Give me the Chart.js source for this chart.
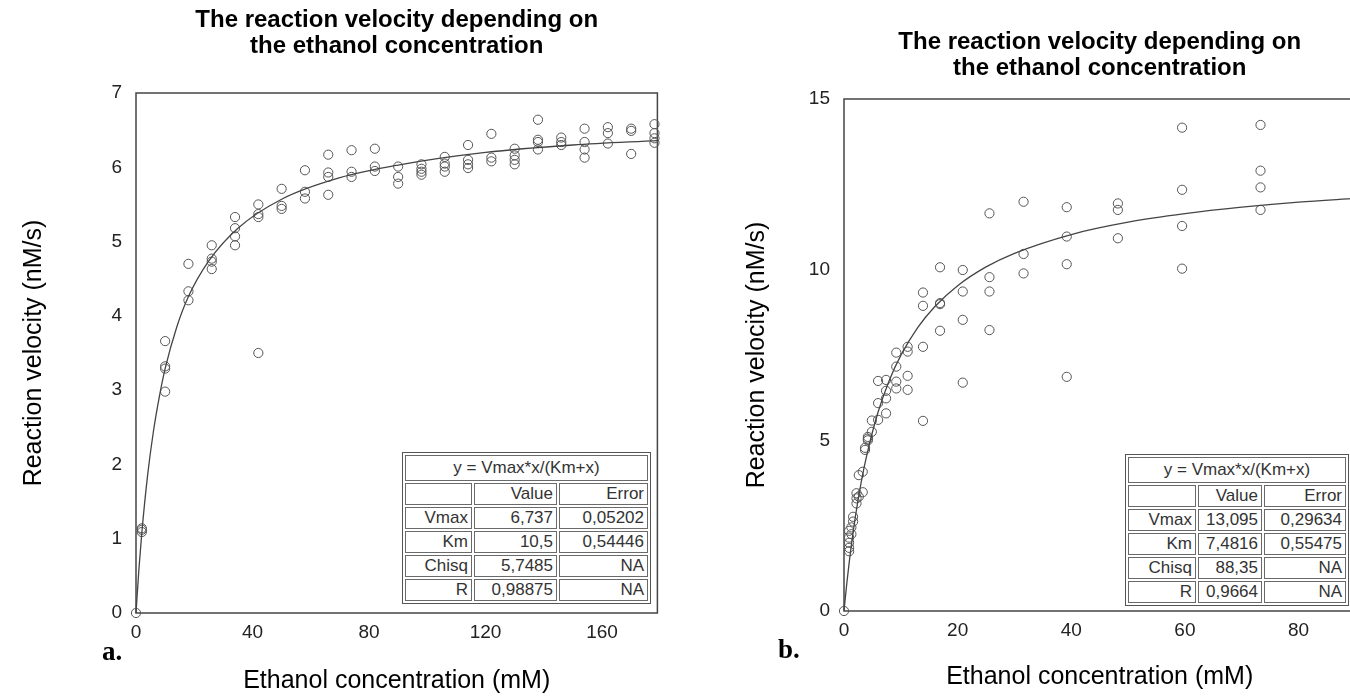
<!DOCTYPE html>
<html>
<head>
<meta charset="utf-8">
<script src="https://cdn.jsdelivr.net/npm/chart.js@4.4.1/dist/chart.umd.min.js"></script>
<style>
    html, body { margin: 0; padding: 0; background: #fff; width: 1350px; height: 700px; overflow: hidden; }
    .panel { position: absolute; top: 0; height: 700px; }
    #boxA { left: 0; width: 663px; }
    #boxB { left: 675px; width: 686px; }
    .tag { position: absolute; font: bold 27px "Liberation Serif", "Times New Roman", serif; color: #000; }
    table.fit {
        position: absolute; table-layout: fixed; border-collapse: separate; border-spacing: 2px;
        border: 1px solid #555; background: #fff; color: #333;
        font: 17px "Liberation Sans", Arial, sans-serif;
    }
    table.fit td { border: 1px solid #6a6a6a; padding: 0 3px; text-align: right; white-space: nowrap; overflow: hidden; line-height: 18px; height: 20px; }
    table.fit tr:first-child td { height: 24px; }
    table.fit td.eq { text-align: center; }
</style>
</head>
<body>
<div class="panel" id="boxA"><canvas id="chartA"></canvas></div>
<div class="panel" id="boxB"><canvas id="chartB"></canvas></div>
<div class="tag" style="left:102px; top:636px;">a.</div>
<div class="tag" style="left:778px; top:634px;">b.</div>
<table class="fit" id="tableA" style="left:402px; top:452px;"></table>
<table class="fit" id="tableB" style="left:1125px; top:454px;"></table>

<script>
// ---- panel a: measured points, grouped by concentration (mM) ----
const concA = [0, 2, 10, 18, 26, 34, 42, 50, 58, 66, 74, 82, 90, 98, 106, 114, 122, 130, 138, 146, 154, 162, 170, 178];
const velA = [
    [0], [1.09, 1.12, 1.14], [3.66, 3.32, 3.29, 2.98], [4.70, 4.33, 4.21],
    [4.95, 4.77, 4.73, 4.63], [5.33, 5.18, 5.07, 4.95], [5.50, 5.37, 5.33, 3.50], [5.71, 5.48, 5.44],
    [5.96, 5.67, 5.58], [6.17, 5.93, 5.87, 5.63], [6.23, 5.94, 5.87], [6.25, 6.01, 5.95],
    [6.01, 5.87, 5.78], [6.04, 5.98, 5.94, 5.90], [6.14, 6.05, 6.01, 5.94], [6.30, 6.10, 6.04, 5.99],
    [6.45, 6.13, 6.08], [6.25, 6.16, 6.10, 6.04], [6.64, 6.37, 6.34, 6.24], [6.40, 6.34, 6.30],
    [6.52, 6.34, 6.24, 6.13], [6.54, 6.46, 6.32], [6.52, 6.49, 6.18], [6.58, 6.46, 6.39, 6.33]
];
// fitted curve a
const fitXA = [0, 1, 2, 4, 6, 8, 10, 14, 18, 25, 35, 50, 70, 90, 120, 150, 179];
const fitYA = [0, 0.59, 1.08, 1.86, 2.45, 2.91, 3.29, 3.85, 4.26, 4.74, 5.18, 5.57, 5.86, 6.03, 6.20, 6.30, 6.36];
const xTicksA = [0, 40, 80, 120, 160];
const yTicksA = [0, 1, 2, 3, 4, 5, 6, 7];
const xMaxA = 179;
const fitRowsA = ['Vmax', 'Km', 'Chisq', 'R'];
const fitValueA = ['6,737', '10,5', '5,7485', '0,98875'];
const fitErrorA = ['0,05202', '0,54446', 'NA', 'NA'];

// ---- panel b ----
const concB = [0, 0.9, 1.3, 1.6, 2.2, 2.6, 3.3, 3.7, 4.2, 4.9, 6.0, 7.4, 9.2, 11.2, 13.9, 16.9, 20.9, 25.6, 31.6, 39.2, 48.2, 59.5, 73.3];
const velB = [
    [0], [2.35, 2.15, 2.0, 1.85, 1.75], [2.45, 2.25], [2.76, 2.62], [3.45, 3.30, 3.15],
    [3.98, 3.35], [4.08, 3.48], [4.78, 4.72], [5.10, 5.05, 5.00], [5.58, 5.25],
    [6.74, 6.09, 5.60], [6.77, 6.45, 6.23, 5.79], [7.57, 7.16, 6.72, 6.52], [7.74, 7.60, 6.89, 6.48],
    [9.33, 8.94, 7.74, 5.57], [10.07, 9.02, 8.99, 8.21], [9.99, 9.36, 8.53, 6.69], [11.65, 9.78, 9.36, 8.23],
    [11.99, 10.46, 9.89], [11.83, 10.97, 10.16, 6.86], [11.94, 11.75, 10.92],
    [14.16, 12.34, 11.28, 10.03], [14.24, 12.90, 12.41, 11.75]
];
const fitXB = [0, 0.5, 1, 2, 3, 4, 6, 8, 10, 13, 16, 20, 25, 30, 40, 50, 60, 70, 80, 90];
const fitYB = [0, 0.82, 1.54, 2.76, 3.75, 4.56, 5.83, 6.77, 7.49, 8.31, 8.92, 9.53, 10.08, 10.48, 11.03, 11.39, 11.64, 11.83, 11.98, 12.09];
const xTicksB = [0, 20, 40, 60, 80];
const yTicksB = [0, 5, 10, 15];
const xMaxB = 90;
const fitRowsB = ['Vmax', 'Km', 'Chisq', 'R'];
const fitValueB = ['13,095', '7,4816', '88,35', '0,9664'];
const fitErrorB = ['0,29634', '0,55475', 'NA', 'NA'];

const titleLines = ['The reaction velocity depending on', 'the ethanol concentration'];
const xLabel = 'Ethanol concentration (mM)';
const yLabel = 'Reaction velocity (nM/s)';
const equation = 'y = Vmax*x/(Km+x)';

const FONT = '"Liberation Sans", Arial, sans-serif';

// box round the plot area
const framePlugin = {
    id: 'frame',
    beforeDatasetsDraw(chart) {
        const { ctx, chartArea: a } = chart;
        ctx.save();
        ctx.strokeStyle = '#444';
        ctx.lineWidth = 1.5;
        ctx.strokeRect(a.left, a.top, a.right - a.left, a.bottom - a.top);
        ctx.restore();
    }
};

function makeChart(id, p) {
    const points = [];
    p.conc.forEach((c, i) => p.vel[i].forEach(v => points.push({ x: c, y: v })));
    const curve = p.fitX.map((x, i) => ({ x: x, y: p.fitY[i] }));

    return new Chart(document.getElementById(id), {
        type: 'scatter',
        data: {
            datasets: [{
                data: curve,
                showLine: true,
                borderColor: '#444',
                borderWidth: 1.3,
                pointRadius: 0,
                cubicInterpolationMode: 'monotone',
                clip: false
            }, {
                data: points,
                pointStyle: 'circle',
                pointRadius: 4.6,
                pointBorderWidth: 1,
                pointBorderColor: '#555',
                pointBackgroundColor: 'rgba(0,0,0,0)',
                clip: false
            }]
        },
        options: {
            responsive: true,
            maintainAspectRatio: false,
            animation: false,
            layout: { padding: 0 },
            plugins: {
                legend: { display: false },
                tooltip: { enabled: false },
                title: {
                    display: true,
                    text: titleLines,
                    fullSize: false,
                    color: '#000',
                    font: { family: FONT, size: 24, weight: 'bold', lineHeight: 26 / 24 },
                    padding: p.titlePad
                }
            },
            scales: {
                x: {
                    type: 'linear',
                    min: 0,
                    max: p.xMax,
                    grid: { display: false, drawTicks: false },
                    border: { display: false },
                    afterBuildTicks: s => { s.ticks = p.xTicks.map(v => ({ value: v })); },
                    afterFit: s => { s.height = p.xAxisH; },
                    ticks: { color: '#222', padding: 8, maxRotation: 0, font: { family: FONT, size: 19 } },
                    title: {
                        display: true, text: xLabel, color: '#000',
                        font: { family: FONT, size: 25, lineHeight: 1.2 },
                        padding: { top: 0, bottom: p.xTitlePad }
                    }
                },
                y: {
                    type: 'linear',
                    min: 0,
                    max: p.yTicks[p.yTicks.length - 1],
                    grid: { display: false, drawTicks: false },
                    border: { display: false },
                    afterBuildTicks: s => { s.ticks = p.yTicks.map(v => ({ value: v })); },
                    afterFit: s => { s.width = p.yAxisW; },
                    ticks: { color: '#222', padding: 14, font: { family: FONT, size: 19 } },
                    title: {
                        display: true, text: yLabel, color: '#000',
                        font: { family: FONT, size: 25, lineHeight: 1.2 },
                        padding: { top: p.yTitlePad, bottom: 0 }
                    }
                }
            }
        },
        plugins: [framePlugin]
    });
}

function fillTable(id, widths, rows, values, errors) {
    const t = document.getElementById(id);
    let html = '<colgroup>' + widths.map(w => '<col style="width:' + w + 'px">').join('') + '</colgroup>';
    html += '<tr><td class="eq" colspan="3">' + equation + '</td></tr>';
    html += '<tr><td></td><td>Value</td><td>Error</td></tr>';
    rows.forEach((r, i) => {
        html += '<tr><td>' + r + '</td><td>' + values[i] + '</td><td>' + errors[i] + '</td></tr>';
    });
    t.innerHTML = html;
}

makeChart('chartA', {
    conc: concA, vel: velA, fitX: fitXA, fitY: fitYA,
    xTicks: xTicksA, yTicks: yTicksA, xMax: xMaxA,
    titlePad: { top: 7, bottom: 34 },
    xAxisH: 87, yAxisW: 136, xTitlePad: 4, yTitlePad: 19
});
makeChart('chartB', {
    conc: concB, vel: velB, fitX: fitXB, fitY: fitYB,
    xTicks: xTicksB, yTicks: yTicksB, xMax: xMaxB,
    titlePad: { top: 29, bottom: 18 },
    xAxisH: 89, yAxisW: 169, xTitlePad: 8, yTitlePad: 67
});

fillTable('tableA', [67, 83, 89], fitRowsA, fitValueA, fitErrorA);
fillTable('tableB', [68, 64, 82], fitRowsB, fitValueB, fitErrorB);
</script>
</body>
</html>
